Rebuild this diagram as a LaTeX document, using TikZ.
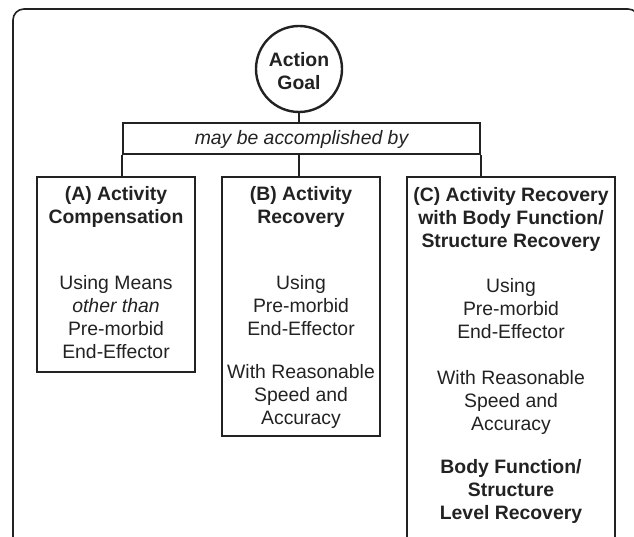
\documentclass[tikz,border=0pt]{standalone}
\usepackage{fontspec}
\setmainfont{Liberation Sans}
\definecolor{ink}{HTML}{222222}
\begin{document}
\begin{tikzpicture}[x=1pt,y=-1pt,
  every node/.style={text=ink,font=\fontsize{19.4}{23}\selectfont,align=center,inner sep=0pt},
  box/.style={draw=ink,line width=2.4pt,rectangle},
  conn/.style={draw=ink,line width=2.4pt},
  txt/.style={}]
\useasboundingbox (0,0) rectangle (634,537);
\clip (0,0) rectangle (634,537);
\draw[ink,line width=1.6pt,rounded corners=11pt] (13,9) rectangle (639,620);
\node[draw=ink,line width=2.4pt,circle,minimum size=86pt] (goal) at (299,69) {};
\node[font=\bfseries\fontsize{19.4}{23}\selectfont] (goalt) at (299,71) {Action\\Goal};
\node[box,minimum width=357pt,minimum height=31pt] (mid) at (301.5,138.5) {};
\node (midt) at (301.5,139) {\itshape may be accomplished by};
\node[box,minimum width=158pt,minimum height=195pt] (boxA) at (116,274.5) {};
\node[box,minimum width=158pt,minimum height=259pt] (boxB) at (301,306.5) {};
\node[box,minimum width=208pt,minimum height=420pt] (boxC) at (511,387) {};
\draw[conn] (goal.south) -- (goal.south |- mid.north);
\draw[conn] (mid.south west) -- (mid.south west |- boxA.north);
\draw[conn] (mid.south -| goal.south) -- (goal.south |- boxB.north);
\draw[conn] (mid.south east) -- (mid.south east |- boxC.north);
% box A
\node[font=\bfseries\fontsize{19.4}{23}\selectfont] (at) at (116,207) {(A) Activity\\Compensation};
\node (ab) at (116,317) {Using Means\\\itshape other than\\Pre-morbid\\End-Effector};
% box B
\node[font=\bfseries\fontsize{19.4}{23}\selectfont] (bt) at (301,207) {(B) Activity\\Recovery};
\node (bb1) at (301,306) {Using\\Pre-morbid\\End-Effector};
\node (bb2) at (301,396) {With Reasonable\\Speed and\\Accuracy};
% box C
\node[font=\bfseries\fontsize{19.4}{23}\selectfont] (ct) at (511,219) {(C) Activity Recovery\\with Body Function/\\Structure Recovery};
\node (cb1) at (511,309) {Using\\Pre-morbid\\End-Effector};
\node (cb2) at (511,402) {With Reasonable\\Speed and\\Accuracy};
\node[font=\bfseries\fontsize{19.4}{23}\selectfont] (cb3) at (511,491) {Body Function/\\Structure\\Level Recovery};
\end{tikzpicture}
\end{document}
